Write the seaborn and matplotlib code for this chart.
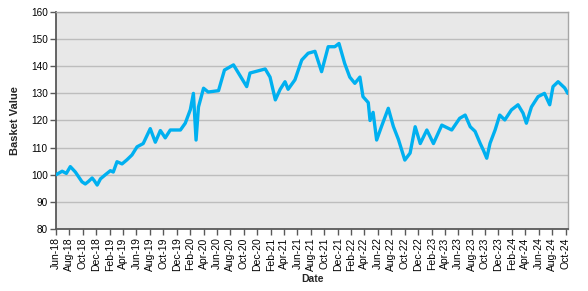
import matplotlib
matplotlib.use("Agg")
import matplotlib.pyplot as plt
import matplotlib.dates as mdates
import pandas as pd
import seaborn as sns

dates = [
    "2018-06-01", "2018-06-29", "2018-07-18", "2018-08-05", "2018-08-28", "2018-09-27",
    "2018-10-12", "2018-10-26", "2018-11-12", "2018-11-22", "2018-12-05", "2018-12-20",
    "2019-01-11", "2019-02-03", "2019-02-16", "2019-03-05", "2019-03-28", "2019-04-19",
    "2019-05-12", "2019-06-04", "2019-07-02", "2019-08-03", "2019-08-26", "2019-09-18",
    "2019-10-10", "2019-11-02", "2019-12-18", "2020-01-09", "2020-02-01", "2020-02-15",
    "2020-02-27", "2020-03-09", "2020-04-01", "2020-04-22", "2020-06-08", "2020-07-05",
    "2020-08-15", "2020-09-14", "2020-10-14", "2020-10-29", "2020-12-14", "2021-01-06",
    "2021-01-28", "2021-02-21", "2021-03-15", "2021-04-06", "2021-04-20", "2021-05-21",
    "2021-06-21", "2021-07-20", "2021-08-20", "2021-09-19", "2021-10-19", "2021-11-18",
    "2021-12-07", "2022-01-02", "2022-01-25", "2022-02-17", "2022-03-12", "2022-03-26",
    "2022-04-19", "2022-04-27", "2022-05-11", "2022-05-27", "2022-06-19", "2022-07-19",
    "2022-08-11", "2022-09-03", "2022-10-02", "2022-10-26", "2022-11-18", "2022-12-11",
    "2023-01-10", "2023-02-09", "2023-03-19", "2023-05-03", "2023-06-08", "2023-07-03",
    "2023-07-26", "2023-08-17", "2023-09-09", "2023-09-24", "2023-10-09", "2023-10-24",
    "2023-11-16", "2023-12-07", "2023-12-30", "2024-01-29", "2024-02-28", "2024-03-22",
    "2024-04-06", "2024-04-29", "2024-05-29", "2024-06-27", "2024-07-21", "2024-08-05",
    "2024-08-28", "2024-09-27", "2024-10-11",
]
basket_value = [
    100.0, 101.3, 100.5, 103.0, 101.0, 97.4,
    96.6, 97.5, 98.8, 97.8, 96.2, 98.5,
    100.0, 101.5, 101.0, 104.8, 104.0, 105.5,
    107.3, 110.3, 111.5, 117.0, 112.0, 116.3,
    113.6, 116.5, 116.5, 119.0, 124.0, 130.0,
    112.8, 125.0, 131.9, 130.5, 131.0, 138.6,
    140.5, 136.5, 132.5, 137.5, 138.5, 139.0,
    136.0, 127.6, 131.5, 134.3, 131.5, 135.0,
    142.3, 144.8, 145.5, 138.0, 147.2, 147.2,
    148.4, 141.0, 136.0, 133.7, 136.0, 128.8,
    126.6, 120.0, 123.0, 112.8, 118.0, 124.5,
    117.8, 113.0, 105.4, 108.0, 117.7, 111.5,
    116.5, 111.5, 118.3, 116.5, 120.8, 122.0,
    117.7, 116.0, 111.6, 109.0, 106.1, 111.6,
    116.5, 122.0, 120.2, 123.9, 125.8, 122.7,
    119.0, 125.0, 128.8, 130.0, 125.8, 132.5,
    134.3, 132.0, 130.0,
]
y_ticks = [80, 90, 100, 110, 120, 130, 140, 150, 160]

df = pd.DataFrame({"Date": pd.to_datetime(dates), "Basket Value": basket_value})

sns.set_theme(style="white")
plt.rcParams["font.family"] = ["Liberation Sans", "DejaVu Sans"]

fig = plt.figure(figsize=(5.88, 2.91), dpi=100)
ax = fig.add_axes([56 / 588, 1 - 229 / 291, 512 / 588, 217 / 291])
ax.set_facecolor("#e8e8e8")

sns.lineplot(data=df, x="Date", y="Basket Value", ax=ax, color="#00b0f0",
             linewidth=2.4, zorder=3)

ax.set_ylim(80, 160)
ax.set_yticks(y_ticks)
ax.set_xlim(pd.Timestamp("2018-06-01"), pd.Timestamp("2024-10-12"))
ax.xaxis.set_major_locator(mdates.MonthLocator(bymonth=[2, 4, 6, 8, 10, 12]))
ax.xaxis.set_major_formatter(mdates.DateFormatter("%b-%y"))
plt.setp(ax.get_xticklabels(), rotation=90)

ax.grid(axis="y", color="#bdbdbd", linewidth=1.0, zorder=1)
ax.grid(axis="x", visible=False)
ax.set_axisbelow(True)

for side in ["top", "right"]:
    ax.spines[side].set_color("#a6a6a6")
    ax.spines[side].set_linewidth(1.0)
for side in ["left", "bottom"]:
    ax.spines[side].set_color("#595959")
    ax.spines[side].set_linewidth(1.3)

ax.tick_params(axis="both", which="major", direction="out", length=4, width=1,
               color="#595959", pad=2, labelcolor="black")
ax.tick_params(axis="x", bottom=True, labelsize=7.5)
ax.tick_params(axis="y", left=True, labelsize=7.2)

ax.set_xlabel("Date", fontsize=7.5, fontweight="bold", labelpad=2)
ax.set_ylabel("Basket Value", fontsize=8, fontweight="bold", labelpad=8)

fig.savefig("out.png", dpi=100)
